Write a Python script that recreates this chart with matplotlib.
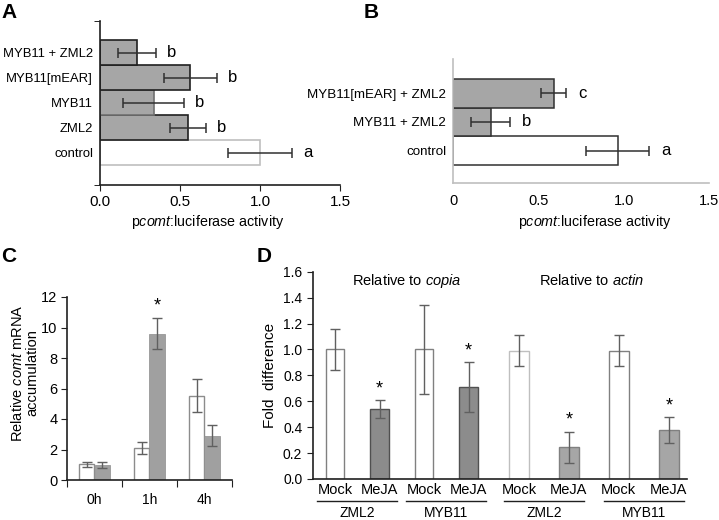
import matplotlib.pyplot as plt
import numpy as np

plt.rcParams['font.family'] = ['Liberation Sans', 'DejaVu Sans']
plt.rcParams['mathtext.fontset'] = 'custom'
plt.rcParams['mathtext.rm'] = 'Liberation Sans'
plt.rcParams['mathtext.it'] = 'Liberation Sans:italic'

# panel A
a_labels = ['control', 'ZML2', 'MYB11', 'MYB11[mEAR]', 'MYB11 + ZML2']
a_values = [1.0, 0.55, 0.335, 0.565, 0.23]
a_errors = [0.20, 0.11, 0.19, 0.165, 0.12]
a_letters = ['a', 'b', 'b', 'b', 'b']

# panel B
b_labels = ['control', 'MYB11 + ZML2', 'MYB11[mEAR] + ZML2']
b_values = [0.965, 0.22, 0.59]
b_errors = [0.185, 0.115, 0.075]
b_letters = ['a', 'b', 'c']

# panel C
c_times = ['0h', '1h', '4h']
c_control = [1.02, 2.12, 5.53]
c_control_err = [0.18, 0.40, 1.10]
c_treated = [1.0, 9.6, 2.9]
c_treated_err = [0.2, 1.0, 0.68]
c_star = [False, True, False]

# panel D
d_treat = ['Mock', 'MeJA', 'Mock', 'MeJA', 'Mock', 'MeJA', 'Mock', 'MeJA']
d_lines = ['ZML2', 'MYB11', 'ZML2', 'MYB11']
d_values = [1.0, 0.538, 1.0, 0.71, 0.99, 0.245, 0.99, 0.376]
d_errors = [0.155, 0.07, 0.345, 0.19, 0.12, 0.12, 0.12, 0.10]
d_star = [False, True, False, True, False, True, False, True]

W, H = 719, 520
fig = plt.figure(figsize=(W / 100, H / 100), dpi=100)


def box(l, t, r, b):
    return [l / W, 1 - b / H, (r - l) / W, (b - t) / H]


GRAY = '#a6a6a6'
LIGHT = '#bfbfbf'
ERR = dict(ecolor='#303030', elinewidth=1.1, capsize=3.5, capthick=1.1)

# ---- A ----
ax = fig.add_axes(box(100, 21, 340, 185))
ya = np.arange(len(a_labels))
for i in ya:
    fc = 'white' if i == 0 else GRAY
    ec = LIGHT if i == 0 else ('#707070' if a_labels[i] == 'MYB11' else '#202020')
    ax.barh(i, a_values[i], height=1.0, color=fc, edgecolor=ec, linewidth=1.2)
ax.errorbar(a_values, ya, xerr=a_errors, fmt='none', **ERR)
for i in ya:
    ax.text(a_values[i] + a_errors[i] + 0.07, i, a_letters[i], fontsize=12, va='center')
ax.set_xlim(0, 1.5)
ax.set_ylim(-1.3, 5.26)
ax.set_xticks([0, 0.5, 1.0, 1.5], ['0.0', '0.5', '1.0', '1.5'], fontsize=11)
ax.set_yticks(ya, a_labels, fontsize=9.4)
ax.tick_params(axis='y', length=0, pad=5)
ax.tick_params(axis='x', length=4, direction='out', color='#202020')
ax.set_yticks([-1.3, 5.26], minor=True)
ax.tick_params(axis='y', which='minor', length=4)
for s in ['top', 'right']:
    ax.spines[s].set_visible(False)
for s in ['left', 'bottom']:
    ax.spines[s].set_color('#202020')
    ax.spines[s].set_linewidth(1.2)
fig.text(208 / W, 1 - 222 / H, 'p$\\it{comt}$:luciferase activity', ha='center', va='center', fontsize=10.3)

# ---- B ----
bx = fig.add_axes(box(453, 59, 709, 183))
yb = np.arange(len(b_labels))
for i in yb:
    fc = 'white' if i == 0 else GRAY
    bx.barh(i, b_values[i], height=1.0, color=fc, edgecolor='#303030', linewidth=1.1)
bx.errorbar(b_values, yb, xerr=b_errors, fmt='none', **ERR)
for i in yb:
    bx.text(b_values[i] + b_errors[i] + 0.07, i, b_letters[i], fontsize=12, va='center')
bx.set_xlim(0, 1.5)
bx.set_ylim(-1.14, 3.21)
bx.set_xticks([0, 0.5, 1.0, 1.5], ['0', '0.5', '1.0', '1.5'], fontsize=10.5)
bx.set_yticks(yb, b_labels, fontsize=9.6)
bx.tick_params(length=0)
bx.tick_params(axis='y', pad=5)
bx.tick_params(axis='x', pad=8)
for s in ['top', 'right']:
    bx.spines[s].set_visible(False)
for s in ['left', 'bottom']:
    bx.spines[s].set_color(LIGHT)
    bx.spines[s].set_linewidth(1.2)
fig.text(595 / W, 1 - 222 / H, 'p$\\it{comt}$:luciferase activity', ha='center', va='center', fontsize=10.3)

# ---- C ----
cx = fig.add_axes(box(67, 297, 232, 480))
xc = np.arange(len(c_times)) + 0.5
bw = 0.28
cx.bar(xc - bw / 2, c_control, width=bw, color='white', edgecolor='#8c8c8c', linewidth=1)
cx.bar(xc + bw / 2, c_treated, width=bw, color='#a0a0a0', edgecolor='#8c8c8c', linewidth=0.5)
cerr = dict(ecolor='#606060', elinewidth=1, capsize=3.5, capthick=1)
cx.errorbar(xc - bw / 2, c_control, yerr=c_control_err, fmt='none', **cerr)
cx.errorbar(xc + bw / 2, c_treated, yerr=c_treated_err, fmt='none', **cerr)
for i, st in enumerate(c_star):
    if st:
        cx.text(xc[i] + bw / 2, c_treated[i] + c_treated_err[i] + 0.25, '*', ha='center', va='bottom', fontsize=13)
cx.set_xlim(0, 3)
cx.set_ylim(0, 12)
cx.set_yticks(range(0, 13, 2))
cx.set_xticks([0, 1, 2, 3], ['', '', '', ''])
cx.set_xticks(xc, c_times, minor=True)
cx.tick_params(axis='x', which='major', length=5, color='#202020')
cx.tick_params(axis='x', which='minor', length=0, pad=9, labelsize=10)
cx.tick_params(axis='y', length=4, labelsize=10.5, color='#202020', pad=3)
for s in ['top', 'right']:
    cx.spines[s].set_visible(False)
for s in ['left', 'bottom']:
    cx.spines[s].set_color('#202020')
    cx.spines[s].set_linewidth(1.2)
fig.text(25 / W, 1 - 373 / H, 'Relative $\\it{comt}$ mRNA\naccumulation', rotation=90,
         ha='center', va='center', fontsize=10.5, linespacing=1.05, multialignment='center')

# ---- D ----
dx = fig.add_axes(box(312.7, 271.7, 687.3, 479))
xd = np.array([0.45, 1.34, 2.23, 3.12, 4.13, 5.12, 6.12, 7.12])
wd = [0.37] * 4 + [0.40] * 4
fills = ['white', '#8c8c8c', 'white', '#8c8c8c', 'white', GRAY, 'white', GRAY]
edges = ['#808080', '#505050', '#808080', '#505050', LIGHT, '#808080', '#808080', '#808080']
for i in range(len(d_values)):
    dx.bar(xd[i], d_values[i], width=wd[i], color=fills[i], edgecolor=edges[i], linewidth=1)
dx.errorbar(xd, d_values, yerr=d_errors, fmt='none', ecolor='#606060', elinewidth=1, capsize=3.5, capthick=1)
for i, st in enumerate(d_star):
    if st:
        dx.text(xd[i], d_values[i] + d_errors[i] + 0.025, '*', ha='center', va='bottom', fontsize=13)
dx.set_xlim(0, 7.49)
dx.set_ylim(0, 1.6)
dx.set_yticks(np.arange(0, 1.61, 0.2), [f'{v:.1f}' for v in np.arange(0, 1.61, 0.2)])
dx.set_xticks([])
dx.tick_params(axis='y', length=4, labelsize=10, color='#202020')
for s in ['top', 'right']:
    dx.spines[s].set_visible(False)
for s in ['left', 'bottom']:
    dx.spines[s].set_color('#202020')
    dx.spines[s].set_linewidth(1.2)
dx.set_ylabel('Fold  difference', fontsize=11, labelpad=4)
tr = dx.get_xaxis_transform()
for i, t in enumerate(d_treat):
    dx.text(xd[i], -0.053, t, transform=tr, ha='center', va='center', fontsize=10.5)
for g in range(len(d_lines)):
    c = (xd[2 * g] + xd[2 * g + 1]) / 2
    dx.plot([c - 0.8, c + 0.8], [-0.105, -0.105], transform=tr, color='#202020', lw=1, clip_on=False)
    dx.text(c, -0.163, d_lines[g], transform=tr, ha='center', va='center', fontsize=10)
dx.text(1.88, 1.53, 'Relative to $\\it{copia}$', ha='center', va='center', fontsize=10.5)
dx.text(5.58, 1.53, 'Relative to $\\it{actin}$', ha='center', va='center', fontsize=10.5)

# panel letters
for lab, x, y in [('A', 9, 13), ('B', 371, 12), ('C', 9, 257), ('D', 264, 257)]:
    fig.text(x / W, 1 - y / H, lab, fontsize=15, fontweight='bold', ha='center', va='center')

fig.savefig('out.png', dpi=100)
